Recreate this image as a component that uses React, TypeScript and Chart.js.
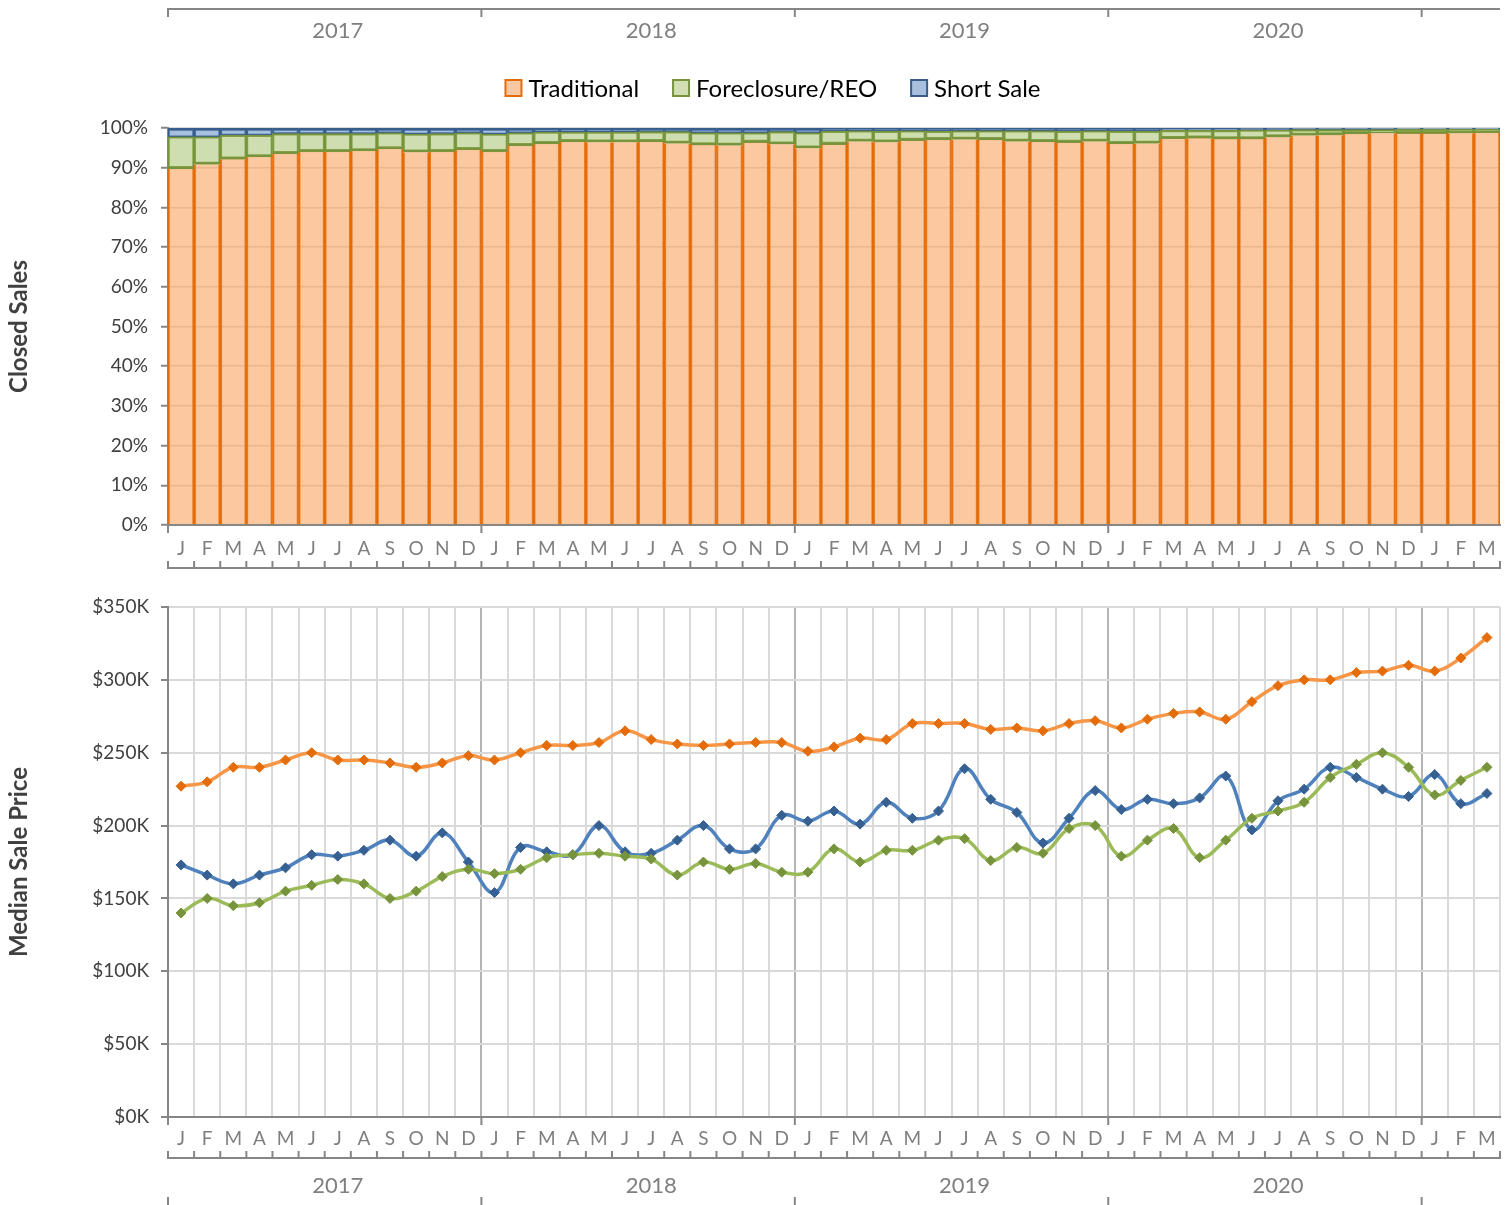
import React, { useEffect, useRef } from "react";
import { Chart, registerables } from "chart.js";

Chart.register(...registerables);

// ---------------- data ----------------
const MONTH_LABELS = [
  "J", "F", "M", "A", "M", "J", "J", "A", "S", "O", "N", "D",
  "J", "F", "M", "A", "M", "J", "J", "A", "S", "O", "N", "D",
  "J", "F", "M", "A", "M", "J", "J", "A", "S", "O", "N", "D",
  "J", "F", "M", "A", "M", "J", "J", "A", "S", "O", "N", "D",
  "J", "F", "M",
];
const YEAR_LABELS = ["2017", "2018", "2019", "2020"];
const SERIES_NAMES = ["Traditional", "Foreclosure/REO", "Short Sale"];

const PERCENT_TICK_STEP = 10;
const PRICE_TICK_STEP = 50;

// Closed sales share (%)
const TRADITIONAL_SHARE = [
  89.7, 90.8, 92.1, 92.7, 93.5, 94.0, 94.0, 94.2, 94.7, 93.9, 94.0, 94.5,
  94.0, 95.5, 96.0, 96.5, 96.4, 96.4, 96.5, 96.1, 95.7, 95.6, 96.3, 95.9,
  94.9, 95.8, 96.6, 96.4, 96.8, 97.0, 97.1, 97.0, 96.6, 96.5, 96.3, 96.6,
  96.0, 96.1, 97.3, 97.4, 97.2, 97.2, 97.7, 98.1, 98.2, 98.5, 98.7, 98.6,
  98.6, 98.7, 98.8,
];
const FORECLOSURE_SHARE = [
  8.1, 7.0, 6.1, 5.5, 5.1, 4.6, 4.6, 4.4, 4.1, 4.6, 4.6, 4.3,
  4.5, 3.3, 3.0, 2.5, 2.6, 2.6, 2.6, 3.0, 3.1, 3.2, 2.5, 3.2,
  3.9, 3.4, 2.7, 2.8, 2.5, 2.2, 2.2, 2.3, 2.7, 2.8, 2.9, 2.7,
  3.2, 3.1, 2.1, 2.0, 2.2, 2.3, 1.8, 1.5, 1.4, 1.1, 0.9, 1.1,
  1.1, 1.0, 0.9,
];
const SHORT_SALE_SHARE = [
  2.2, 2.2, 1.8, 1.8, 1.4, 1.4, 1.4, 1.4, 1.2, 1.5, 1.4, 1.2,
  1.5, 1.2, 1.0, 1.0, 1.0, 1.0, 0.9, 0.9, 1.2, 1.2, 1.2, 0.9,
  1.2, 0.8, 0.7, 0.8, 0.7, 0.8, 0.7, 0.7, 0.7, 0.7, 0.8, 0.7,
  0.8, 0.8, 0.6, 0.6, 0.6, 0.5, 0.5, 0.4, 0.4, 0.4, 0.4, 0.3,
  0.3, 0.3, 0.3,
];

// Median sale price ($K)
const TRADITIONAL_PRICE = [
  227, 230, 240, 240, 245, 250, 245, 245, 243, 240, 243, 248,
  245, 250, 255, 255, 257, 265, 259, 256, 255, 256, 257, 257,
  251, 254, 260, 259, 270, 270, 270, 266, 267, 265, 270, 272,
  267, 273, 277, 278, 273, 285, 296, 300, 300, 305, 306, 310,
  306, 315, 329,
];
const FORECLOSURE_PRICE = [
  140, 150, 145, 147, 155, 159, 163, 160, 150, 155, 165, 170,
  167, 170, 178, 180, 181, 179, 177, 166, 175, 170, 174, 168,
  168, 184, 175, 183, 183, 190, 191, 176, 185, 181, 198, 200,
  179, 190, 198, 178, 190, 205, 210, 216, 233, 242, 250, 240,
  221, 231, 240,
];
const SHORT_SALE_PRICE = [
  173, 166, 160, 166, 171, 180, 179, 183, 190, 179, 195, 175,
  154, 185, 182, 180, 200, 182, 181, 190, 200, 184, 184, 207,
  203, 210, 201, 216, 205, 210, 239, 218, 209, 188, 205, 224,
  211, 218, 215, 219, 234, 197, 217, 225, 240, 233, 225, 220,
  235, 215, 222,
];

// ---------------- styles ----------------
const FONT = "Lato, 'Open Sans', sans-serif";
const AXIS = "#868686";
const GRID = "#D9D9D9";
const YEAR_GRID = "#B4B4B4";
const MONTH_COLOR = "#7F7F7F";
const VALUE_COLOR = "#404040";
const W = 1511;
const TOP_H = 580;
const BOT_H = 625;

const COLORS = [
  { fill: "rgba(247,150,70,0.52)", solidFill: "#FAC8A1", stroke: "#E46C0A", line: "#F79646", marker: "#E46C0A" },
  { fill: "rgba(155,187,89,0.48)", solidFill: "#D1DFB3", stroke: "#77933C", line: "#9BBB59", marker: "#77933C" },
  { fill: "rgba(79,129,189,0.5)", solidFill: "#A7C0DE", stroke: "#385D8A", line: "#4F81BD", marker: "#366092" },
];

function line(ctx: CanvasRenderingContext2D, x1: number, y1: number, x2: number, y2: number) {
  ctx.beginPath();
  ctx.moveTo(x1, y1);
  ctx.lineTo(x2, y2);
  ctx.stroke();
}

type AxisOpts = {
  bracketOffset: number;
  yearLabelOffset: number | null;
  bottomTicks: [number, number] | null;
  topYearAxis: boolean;
  legend: boolean;
  title: string;
};

function makeAxisPlugin(o: AxisOpts) {
  return {
    id: "multiLevelAxis",
    afterDraw(chart: any) {
      const { ctx, chartArea } = chart;
      const x = chart.scales.x;
      const n = MONTH_LABELS.length;
      const b: number[] = [];
      for (let i = 0; i <= n; i++) b.push(x.getPixelForValue(i - 0.5));
      const bottom = chartArea.bottom;
      ctx.save();
      ctx.strokeStyle = AXIS;
      ctx.lineWidth = 2;
      ctx.lineCap = "butt";
      // year boundary ticks on the axis line
      for (let i = 0; i < n; i += 12) line(ctx, b[i], bottom, b[i], bottom + 8);
      // month bracket
      const by = bottom + o.bracketOffset;
      line(ctx, b[0] - 1, by, b[n] + 1, by);
      for (let i = 0; i <= n; i++) line(ctx, b[i], by - 7, b[i], by + 1);
      // year labels below
      ctx.fillStyle = MONTH_COLOR;
      ctx.font = `22px ${FONT}`;
      ctx.textAlign = "center";
      ctx.textBaseline = "middle";
      if (o.yearLabelOffset !== null) {
        YEAR_LABELS.forEach((yl, k) => ctx.fillText(yl, x.getPixelForValue(k * 12 + 6), bottom + o.yearLabelOffset!));
      }
      if (o.bottomTicks) {
        for (let i = 0; i < n; i += 12) line(ctx, b[i], bottom + o.bottomTicks[0], b[i], bottom + o.bottomTicks[1]);
      }
      // top year axis
      if (o.topYearAxis) {
        const ty = 9;
        line(ctx, b[0] - 1, ty, b[n], ty);
        for (let i = 0; i < n; i += 12) line(ctx, b[i], ty, b[i], ty + 8);
        YEAR_LABELS.forEach((yl, k) => ctx.fillText(yl, x.getPixelForValue(k * 12 + 6), 31));
      }
      // legend
      if (o.legend) {
        ctx.font = `24px ${FONT}`;
        const box = 16, gap = 7, spacing = 34;
        const widths = SERIES_NAMES.map((s) => box + gap + ctx.measureText(s).width);
        const total = widths.reduce((a, c) => a + c, 0) + spacing * (widths.length - 1);
        let lx = 773 - total / 2;
        const ly = 88;
        SERIES_NAMES.forEach((s, k) => {
          ctx.fillStyle = COLORS[k].solidFill;
          ctx.fillRect(lx, ly - box / 2, box, box);
          ctx.strokeStyle = COLORS[k].stroke;
          ctx.lineWidth = 2;
          ctx.strokeRect(lx, ly - box / 2, box, box);
          ctx.fillStyle = "#000";
          ctx.textAlign = "left";
          ctx.fillText(s, lx + box + gap, ly + 1);
          lx += widths[k] + spacing;
        });
      }
      // y title
      ctx.translate(19, (chartArea.top + chartArea.bottom) / 2);
      ctx.rotate(-Math.PI / 2);
      ctx.font = `bold 24px ${FONT}`;
      ctx.fillStyle = VALUE_COLOR;
      ctx.textAlign = "center";
      ctx.textBaseline = "middle";
      ctx.fillText(o.title, 0, 0);
      ctx.restore();
    },
  };
}

function topConfig(): any {
  const shares = [TRADITIONAL_SHARE, FORECLOSURE_SHARE, SHORT_SALE_SHARE];
  const borders = [
    { left: 1.5, right: 1.5, top: 0, bottom: 0 },
    { left: 1.5, right: 1.5, top: 1.5, bottom: 2.5 },
    { left: 1.5, right: 1.5, top: 2.5, bottom: 1 },
  ];
  return {
    type: "bar",
    data: {
      labels: MONTH_LABELS,
      datasets: SERIES_NAMES.map((name, k) => ({
        label: name,
        data: shares[k],
        backgroundColor: COLORS[k].fill,
        borderColor: COLORS[k].stroke,
        borderWidth: borders[k],
        borderSkipped: false,
        barPercentage: 1,
        categoryPercentage: 1,
      })),
    },
    options: {
      responsive: false,
      animation: false,
      layout: { padding: { left: 0, right: 11, top: 128, bottom: 0 } },
      plugins: { legend: { display: false }, tooltip: { enabled: false } },
      scales: {
        x: {
          stacked: true,
          grid: { display: false, drawTicks: false },
          border: { color: AXIS, width: 2 },
          ticks: { color: MONTH_COLOR, font: { family: FONT, size: 19 }, padding: 12, autoSkip: false, maxRotation: 0 },
          afterFit: (s: any) => { s.height = TOP_H - 525; },
        },
        y: {
          stacked: true,
          min: 0,
          max: 100,
          ticks: {
            stepSize: PERCENT_TICK_STEP,
            callback: (v: any) => `${v}%`,
            color: VALUE_COLOR,
            font: { family: FONT, size: 19 },
            padding: 13,
          },
          grid: { color: GRID, lineWidth: 1.5, tickColor: AXIS, tickLength: 7, tickWidth: 2 },
          border: { color: AXIS, width: 2 },
          afterFit: (s: any) => { s.width = 168; },
        },
      },
    },
    plugins: [
      makeAxisPlugin({ bracketOffset: 43, yearLabelOffset: null, bottomTicks: null, topYearAxis: true, legend: true, title: "Closed Sales" }),
    ],
  };
}

function bottomConfig(): any {
  const prices = [TRADITIONAL_PRICE, FORECLOSURE_PRICE, SHORT_SALE_PRICE];
  return {
    type: "line",
    data: {
      labels: MONTH_LABELS,
      datasets: SERIES_NAMES.map((name, k) => ({
        label: name,
        data: prices[k],
        borderColor: COLORS[k].line,
        backgroundColor: COLORS[k].marker,
        borderWidth: 3.5,
        tension: 0.4,
        fill: false,
        pointStyle: "rectRot",
        pointRadius: 5,
        pointBorderWidth: 1,
        pointBackgroundColor: COLORS[k].marker,
        pointBorderColor: COLORS[k].marker,
      })),
    },
    options: {
      responsive: false,
      animation: false,
      layout: { padding: { left: 0, right: 11, top: 27, bottom: 0 } },
      plugins: { legend: { display: false }, tooltip: { enabled: false } },
      scales: {
        x: {
          offset: true,
          grid: {
            offset: true,
            drawTicks: false,
            lineWidth: 2,
            color: (c: any) => (typeof c.index === "number" && c.index > 0 && c.index % 12 === 0 ? YEAR_GRID : GRID),
          },
          border: { color: AXIS, width: 2 },
          ticks: { color: MONTH_COLOR, font: { family: FONT, size: 19 }, padding: 10, autoSkip: false, maxRotation: 0 },
          afterFit: (s: any) => { s.height = BOT_H - 537; },
        },
        y: {
          min: 0,
          max: 350,
          ticks: {
            stepSize: PRICE_TICK_STEP,
            callback: (v: any) => `$${v}K`,
            color: VALUE_COLOR,
            font: { family: FONT, size: 19 },
            padding: 12,
          },
          grid: { color: GRID, lineWidth: 2, tickColor: AXIS, tickLength: 7, tickWidth: 2 },
          border: { color: AXIS, width: 2 },
          afterFit: (s: any) => { s.width = 168; },
        },
      },
    },
    plugins: [
      makeAxisPlugin({ bracketOffset: 41, yearLabelOffset: 69, bottomTicks: [80, 92], topYearAxis: false, legend: false, title: "Median Sale Price" }),
    ],
  };
}

export default function App() {
  const topRef = useRef<HTMLCanvasElement>(null);
  const botRef = useRef<HTMLCanvasElement>(null);
  useEffect(() => {
    const c1 = new Chart(topRef.current as HTMLCanvasElement, topConfig());
    const c2 = new Chart(botRef.current as HTMLCanvasElement, bottomConfig());
    return () => {
      c1.destroy();
      c2.destroy();
    };
  }, []);
  return (
    <div style={{ position: "absolute", left: 0, top: 0, width: W, height: 1205, background: "#fff", overflow: "hidden" }}>
      <canvas ref={topRef} width={W} height={TOP_H} style={{ position: "absolute", left: 0, top: 0 }} />
      <canvas ref={botRef} width={W} height={BOT_H} style={{ position: "absolute", left: 0, top: TOP_H }} />
    </div>
  );
}
